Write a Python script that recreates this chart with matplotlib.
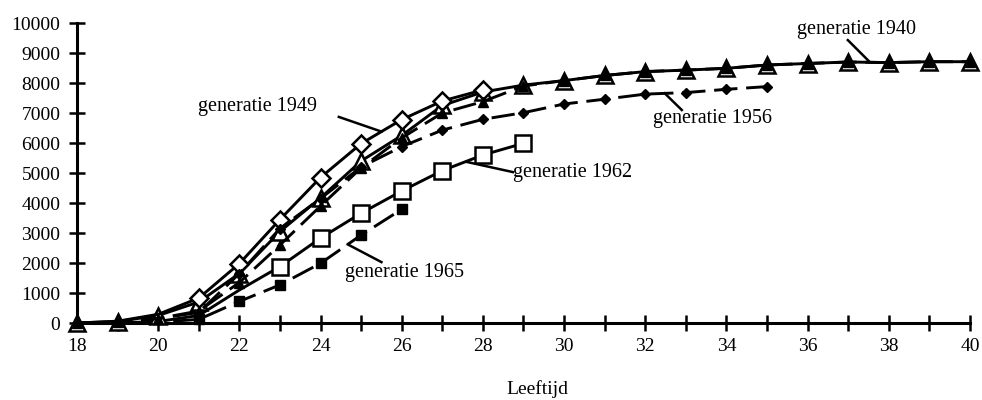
import matplotlib
matplotlib.use("Agg")
import matplotlib.pyplot as plt
import numpy as np

plt.rcParams['font.family'] = ['Liberation Serif', 'DejaVu Serif']

ages_all = list(range(18, 41))
# generatie 1940 (filled triangles)
gen1940 = [0, 20, 150, 400, 1350, 2600, 3900, 5170, 6170, 7000, 7380, 7900, 8080,
           8250, 8380, 8430, 8490, 8600, 8650, 8700, 8680, 8710, 8710]
# unlabeled open-triangle series drawn around the 1940 markers
open_tri = [0, 50, 250, 700, 1650, 3050, 4170, 5400, 6250, 7250, 7700, 7930, 8080,
            8250, 8380, 8430, 8490, 8600, 8650, 8700, 8680, 8710, 8710]
ages_1949 = list(range(18, 29))
gen1949 = [0, 60, 290, 830, 1980, 3450, 4850, 5980, 6780, 7400, 7770]
ages_1956 = list(range(18, 36))
gen1956 = [0, 20, 150, 350, 1650, 3150, 4150, 5200, 5880, 6430, 6790, 7010, 7300,
           7460, 7630, 7680, 7790, 7880]
ages_1962 = list(range(18, 30))
gen1962 = [0, 0, 50, 250, 1100, 1880, 2830, 3660, 4400, 5080, 5600, 5990]
ages_1965 = list(range(18, 27))
gen1965 = [0, 0, 30, 120, 720, 1270, 1990, 2930, 3790]

fig = plt.figure(figsize=(9.82, 4.0), dpi=100)
ax = fig.add_axes([77/982, 77/400, 893/982, 300/400])

lw = 2.1
dash = (0, (8, 3))
# 1962 open squares, solid
ax.plot(ages_1962, gen1962, color='black', lw=lw, marker='s', markersize=11,
        markerfacecolor='white', markeredgecolor='black', markeredgewidth=1.8,
        markevery=slice(5, None), clip_on=False, zorder=2)
# 1965 filled squares, dashed
ax.plot(ages_1965, gen1965, color='black', lw=lw, linestyle=dash, marker='s',
        markersize=6.5, markerfacecolor='black', markeredgecolor='black',
        markevery=slice(3, None), clip_on=False, zorder=2)
# open triangle series (solid)
ax.plot(ages_all, open_tri, color='black', lw=lw, marker='^', markersize=12,
        markerfacecolor='white', markeredgecolor='black', markeredgewidth=1.8,
        clip_on=False, zorder=3)
# 1949 open diamonds, solid
ax.plot(ages_1949, gen1949, color='black', lw=lw, marker='D', markersize=9.5,
        markerfacecolor='white', markeredgecolor='black', markeredgewidth=1.8,
        markevery=slice(3, None), clip_on=False, zorder=4)
# 1956 filled diamonds, dashed
ax.plot(ages_1956, gen1956, color='black', lw=lw, linestyle=dash, marker='D',
        markersize=5.5, markerfacecolor='black', markeredgecolor='black',
        markevery=slice(4, None), clip_on=False, zorder=4)
# 1940 filled triangles, dashed
ax.plot(ages_all, gen1940, color='black', lw=lw, linestyle=dash, marker='^',
        markersize=7, markerfacecolor='black', markeredgecolor='black',
        clip_on=False, zorder=5)

ax.set_xlim(18, 40)
ax.set_ylim(0, 10000)
for s in ['top', 'right']:
    ax.spines[s].set_visible(False)
ax.spines['left'].set_linewidth(2.2)
ax.spines['bottom'].set_linewidth(2.2)

ax.set_xticks(range(18, 41))
ax.set_xticklabels([str(a) if a % 2 == 0 else '' for a in range(18, 41)])
ax.set_yticks(range(0, 10001, 1000))
ax.tick_params(axis='both', direction='inout', length=12, width=1.8, labelsize=14)
ax.tick_params(axis='x', pad=5)
ax.tick_params(axis='y', pad=6)
ax.set_xlabel('Leeftijd', fontsize=14)
ax.xaxis.set_label_coords(0.515, -0.19)

fs = 14.5
lkw = dict(color='black', lw=1.8, zorder=6)
ax.plot([24.45, 25.5], [6870, 6380], **lkw)
ax.text(22.45, 7230, 'generatie 1949', fontsize=fs, ha='center', va='center')
ax.plot([27.6, 28.74], [5370, 5030], **lkw)
ax.text(28.74, 5030, 'generatie 1962', fontsize=fs, ha='left', va='center')
ax.plot([24.67, 25.5], [2620, 2030], **lkw)
ax.text(24.6, 1670, 'generatie 1965', fontsize=fs, ha='left', va='center')
ax.plot([32.48, 32.9], [7655, 7100], **lkw)
ax.text(32.19, 6800, 'generatie 1956', fontsize=fs, ha='left', va='center')
ax.plot([36.99, 37.53], [9430, 8700], **lkw)
ax.text(35.73, 9770, 'generatie 1940', fontsize=fs, ha='left', va='center')

fig.savefig('out.png', dpi=100)
